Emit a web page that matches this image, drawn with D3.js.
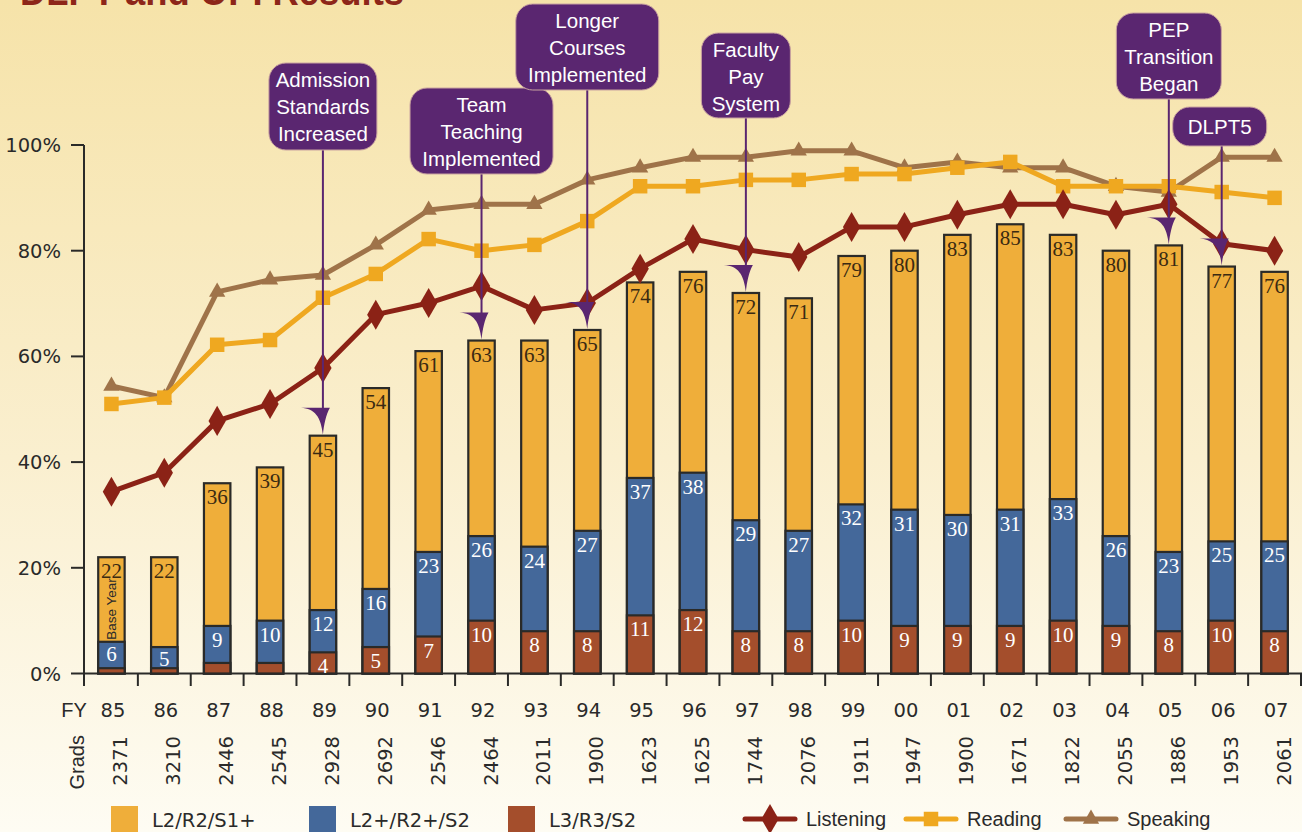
<!DOCTYPE html>
<html>
<head>
<meta charset="utf-8">
<script src="https://cdn.jsdelivr.net/npm/d3@7"></script>
<style>
  body { margin: 0; overflow: hidden; }
  svg { display: block; }
  .num-label { font-family: "DejaVu Sans", sans-serif; font-size: 19.5px; fill: #2a2a2a; }
  .word-label { font-family: "Liberation Sans", sans-serif; font-size: 20px; fill: #2a2a2a; }
  .bar-label { font-family: "Liberation Serif", "DejaVu Serif", serif; font-size: 21px; }
  .note { font-family: "Liberation Sans", sans-serif; font-size: 20.5px; fill: #fff; }
</style>
</head>
<body>
<svg id="chart" width="1302" height="832"></svg>
<script>
//fiscal years and number of graduates
var years = ["85","86","87","88","89","90","91","92","93","94","95","96","97","98","99","00","01","02","03","04","05","06","07"];
var grads = [2371,3210,2446,2545,2928,2692,2546,2464,2011,1900,1623,1625,1744,2076,1911,1947,1900,1671,1822,2055,1886,1953,2061];

//stacked bars (cumulative percentages)
var l2 = [22,22,36,39,45,54,61,63,63,65,74,76,72,71,79,80,83,85,83,80,81,77,76];
var l2plus = [6,5,9,10,12,16,23,26,24,27,37,38,29,27,32,31,30,31,33,26,23,25,25];
var l3 = [1,1,2,2,4,5,7,10,8,8,11,12,8,8,10,9,9,9,10,9,8,10,8];

//lines
var listening = [34.4,38,47.8,51,57.8,67.9,70.1,73.3,68.8,70.1,76.6,82.2,80.2,78.8,84.5,84.5,86.8,88.8,88.8,86.8,88.8,81.3,80];
var reading = [51,52.2,62.2,63.1,71.1,75.6,82.2,80,81.1,85.6,92.2,92.2,93.4,93.4,94.5,94.5,95.7,96.8,92.2,92.2,92.2,91.1,90];
var speaking = [54.4,52.2,72.2,74.5,75.4,81.1,87.7,88.8,88.8,93.4,95.7,97.7,97.7,98.9,98.9,95.7,96.8,95.7,95.7,92.2,91.1,97.7,97.7];

var yTicks = [0,20,40,60,80,100];

//milestones
var noteYears = ["89","92","94","97","05","06"];
var noteTexts = [["Admission","Standards","Increased"],["Team","Teaching","Implemented"],["Longer","Courses","Implemented"],["Faculty","Pay","System"],["PEP","Transition","Began"],["DLPT5"]];

var svg = d3.select("#chart");

/*----------------------
BACKGROUND + TITLE
----------------------*/
var defs = svg.append("defs");
var grad = defs.append("linearGradient").attr("id", "bg").attr("x1", 0).attr("y1", 0).attr("x2", 0).attr("y2", 1);
grad.append("stop").attr("offset", "0%").attr("stop-color", "#f6e3a9");
grad.append("stop").attr("offset", "55%").attr("stop-color", "#faefcf");
grad.append("stop").attr("offset", "100%").attr("stop-color", "#fefcf3");
svg.append("rect").attr("width", 1302).attr("height", 832).attr("fill", "url(#bg)");

svg.append("text")
  .attr("x", 20).attr("y", 5)
  .attr("textLength", 384).attr("lengthAdjust", "spacingAndGlyphs")
  .style("font-family", "Liberation Sans, sans-serif")
  .style("font-weight", "bold").style("font-size", "40px")
  .style("fill", "#8d2619")
  .text("DLPT and OPI Results");

/*----------------------
SCALES + AXES
----------------------*/
var x = d3.scaleBand().domain(years).range([85, 1301]).padding(0);
var barW = x.bandwidth() * 0.5;
var cx = function (d) { return x(d) + x.bandwidth() / 2; };
var y = d3.scaleLinear().domain([0, 100]).range([673.5, 145]);

var axisColor = "#2a2a28";

//left axis
var yAxis = svg.append("g").attr("transform", "translate(84,0)");
yAxis.append("line").attr("x1", 0).attr("x2", 0).attr("y1", y(100)).attr("y2", 686)
  .attr("stroke", axisColor).attr("stroke-width", 2);
yAxis.selectAll(".yt").data(yTicks).enter().append("line")
  .attr("x1", -13).attr("x2", 0).attr("y1", d => y(d)).attr("y2", d => y(d))
  .attr("stroke", axisColor).attr("stroke-width", 2);
yAxis.selectAll(".yl").data(yTicks).enter().append("text")
  .attr("class", "num-label").attr("x", -23).attr("y", d => y(d) + 7)
  .attr("text-anchor", "end").text(d => d + "%");

//bottom axis
svg.append("line").attr("x1", 84).attr("x2", 1302).attr("y1", y(0)).attr("y2", y(0))
  .attr("stroke", axisColor).attr("stroke-width", 2);
svg.selectAll(".xt").data(years.slice(1).concat(["end"])).enter().append("line")
  .attr("x1", (d, i) => x(years[0]) + (i + 1) * x.step())
  .attr("x2", (d, i) => x(years[0]) + (i + 1) * x.step())
  .attr("y1", y(0)).attr("y2", 686)
  .attr("stroke", axisColor).attr("stroke-width", 2);

//FY labels
svg.append("text").attr("class", "word-label").attr("x", 74).attr("y", 717).attr("text-anchor", "middle").text("FY");
svg.selectAll(".fy").data(years).enter().append("text")
  .attr("class", "num-label").attr("x", d => cx(d) + 1.5).attr("y", 717)
  .attr("text-anchor", "middle").text(d => d);

//Grads labels (rotated)
svg.append("text").attr("class", "word-label")
  .attr("transform", "translate(84,735) rotate(-90)").attr("text-anchor", "end").text("Grads");
svg.selectAll(".gr").data(years).enter().append("text")
  .attr("class", "num-label")
  .attr("transform", (d, i) => `translate(${cx(d) + 16},736) rotate(-90)`)
  .attr("text-anchor", "end").text((d, i) => grads[i]);

/*----------------------
STACKED BARS
----------------------*/
var segs = [
  { vals: l2, color: "#efae3a", text: "#3a2a12", minLabel: 0 },
  { vals: l2plus, color: "#44689a", text: "#ffffff", minLabel: 0 },
  { vals: l3, color: "#a44e2c", text: "#ffffff", minLabel: 4 }
];

segs.forEach(function (s) {
  svg.selectAll(null).data(years).enter().append("rect")
    .attr("x", d => cx(d) - barW / 2)
    .attr("y", (d, i) => y(s.vals[i]))
    .attr("width", barW)
    .attr("height", (d, i) => y(0) - y(s.vals[i]))
    .attr("fill", s.color)
    .attr("stroke", axisColor).attr("stroke-width", 2.2);
});

segs.forEach(function (s) {
  svg.selectAll(null).data(years).enter().append("text")
    .filter((d, i) => s.vals[i] >= s.minLabel)
    .attr("class", "bar-label")
    .attr("x", d => cx(d))
    .attr("y", d => y(s.vals[years.indexOf(d)]) + (s.vals === l2plus && s.vals[years.indexOf(d)] < 8 ? 19 : 21))
    .attr("text-anchor", "middle")
    .style("fill", s.text)
    .text(d => s.vals[years.indexOf(d)]);
});

//base year note
svg.append("text")
  .attr("transform", `translate(${cx("85") + 5},${y(6) - 2}) rotate(-90)`)
  .style("font-family", "Liberation Sans, sans-serif").style("font-size", "13.5px")
  .style("fill", "#2a2a2a")
  .text("Base Year");

/*----------------------
LINES
----------------------*/
var lineGen = d3.line().x((d, i) => cx(years[i])).y(d => y(d));

var series = [
  { vals: speaking, color: "#9f7349", shape: d3.symbolTriangle, size: 115 },
  { vals: reading, color: "#efa820", shape: d3.symbolSquare, size: 210 },
  { vals: listening, color: "#8b2216", shape: d3.symbolDiamond, size: 260 }
];

series.forEach(function (s) {
  svg.append("path").datum(s.vals)
    .attr("d", lineGen).attr("fill", "none")
    .attr("stroke", s.color).attr("stroke-width", 5).attr("stroke-linejoin", "round");
  svg.selectAll(null).data(s.vals).enter().append("path")
    .attr("transform", (d, i) => `translate(${cx(years[i])},${y(d)})`)
    .attr("d", d3.symbol().type(s.shape).size(s.size))
    .attr("fill", s.color);
});

/*----------------------
MILESTONE NOTES
----------------------*/
var purple = "#5a2670";
var boxes = [
  { top: 63, w: 108, h: 87 },
  { top: 88, w: 143, h: 86 },
  { top: 4, w: 143, h: 86 },
  { top: 33, w: 89, h: 85 },
  { top: 13, w: 105, h: 86 },
  { top: 107, w: 94, h: 39 }
];
var boxOffset = [0, 0, 0, 0, 0, -2];

noteYears.forEach(function (yr, k) {
  var i = years.indexOf(yr);
  var px = cx(yr);
  var tipY = y(l2[i]) - 1;
  var b = boxes[k];
  var bx = px - b.w / 2 + boxOffset[k];

  svg.append("line").attr("x1", px).attr("x2", px).attr("y1", b.top + b.h).attr("y2", tipY - 10)
    .attr("stroke", purple).attr("stroke-width", 2);
  svg.append("path")
    .attr("d", `M${px},${tipY} C${px + 1},${tipY - 10} ${px + 3},${tipY - 20} ${px + 7},${tipY - 27} L${px - 22},${tipY - 27} C${px - 8},${tipY - 26} ${px - 2},${tipY - 18} ${px},${tipY} Z`)
    .attr("fill", purple);

  svg.append("rect").attr("x", bx).attr("y", b.top).attr("width", b.w).attr("height", b.h)
    .attr("rx", 17).attr("ry", 17).attr("fill", purple)
    .attr("stroke", "#c9a3a0").attr("stroke-width", 1);

  var lines = noteTexts[k];
  lines.forEach(function (t, j) {
    svg.append("text").attr("class", "note")
      .attr("x", bx + b.w / 2).attr("y", b.top + 24 + j * 27 + (lines.length === 1 ? 3 : 0))
      .attr("text-anchor", "middle").text(t);
  });
});

/*----------------------
LEGEND
----------------------*/
var barLegend = [
  { name: "L2/R2/S1+", color: "#efae3a", x: 111 },
  { name: "L2+/R2+/S2", color: "#44689a", x: 309 },
  { name: "L3/R3/S2", color: "#a44e2c", x: 508 }
];
barLegend.forEach(function (l) {
  svg.append("rect").attr("x", l.x).attr("y", 806).attr("width", 27).attr("height", 30).attr("fill", l.color);
  svg.append("text").attr("class", "num-label").attr("x", l.x + 41).attr("y", 827).text(l.name);
});

var lineLegend = [
  { name: "Listening", s: series[2], x: 745 },
  { name: "Reading", s: series[1], x: 906 },
  { name: "Speaking", s: series[0], x: 1066 }
];
lineLegend.forEach(function (l) {
  svg.append("line").attr("x1", l.x).attr("x2", l.x + 50).attr("y1", 819).attr("y2", 819)
    .attr("stroke", l.s.color).attr("stroke-width", 5).attr("stroke-linecap", "round");
  svg.append("path").attr("transform", `translate(${l.x + 25},819)`)
    .attr("d", d3.symbol().type(l.s.shape).size(l.s.size)).attr("fill", l.s.color);
  svg.append("text").attr("class", "word-label").attr("x", l.x + 61).attr("y", 826).text(l.name);
});
</script>
</body>
</html>
